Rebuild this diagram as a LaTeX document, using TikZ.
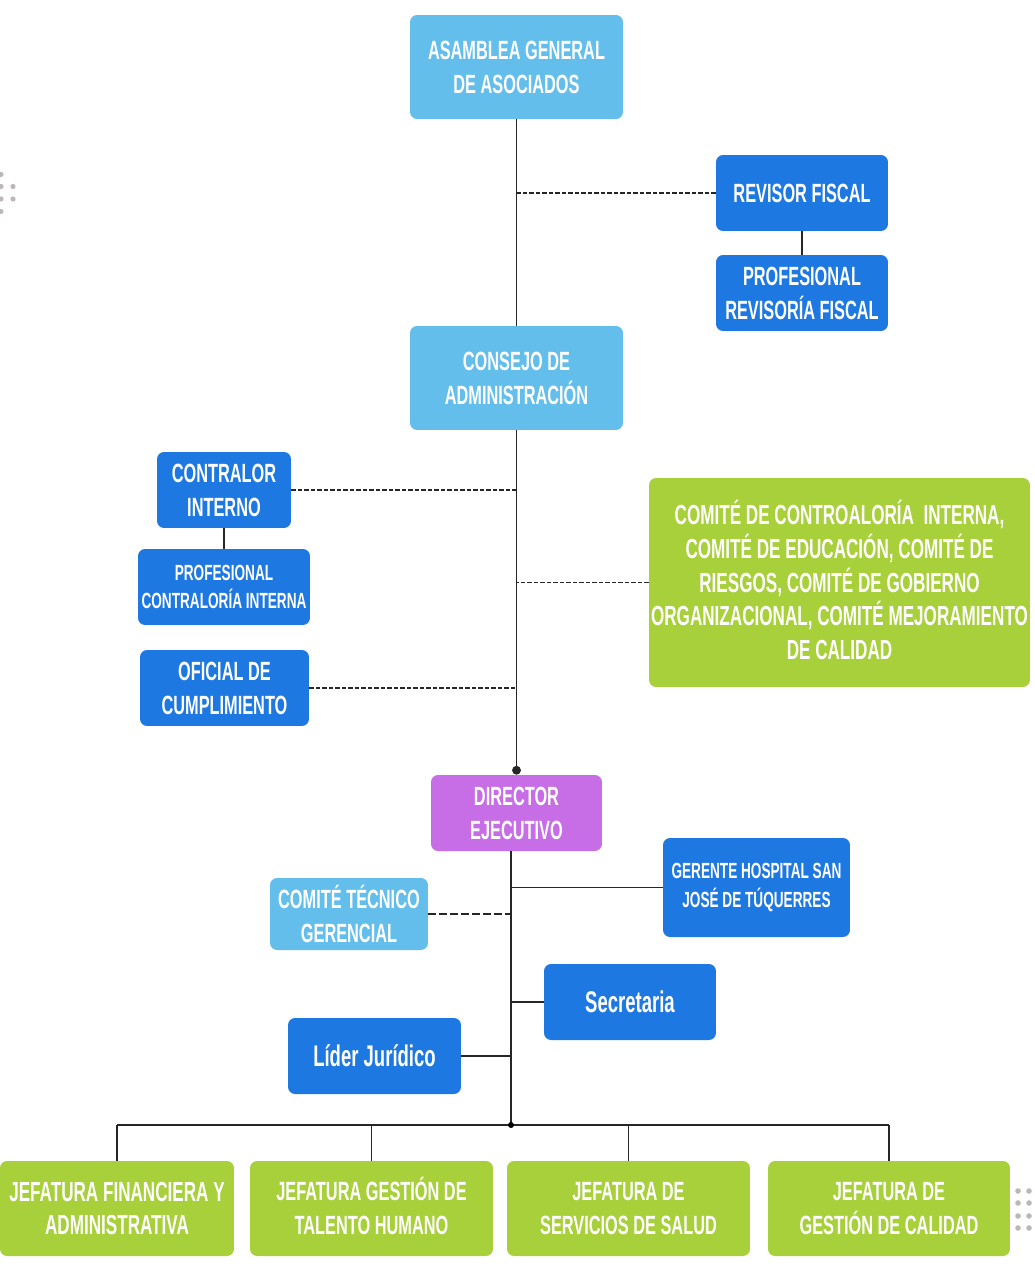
\documentclass[tikz,border=0pt]{standalone}
\usepackage{fontspec}
\newfontfamily\cond[FakeStretch=0.62]{Liberation Sans}
\usetikzlibrary{arrows.meta}
\definecolor{celeste}{HTML}{63BEEB}
\definecolor{azul}{HTML}{1E78E1}
\definecolor{verde}{HTML}{A7D03A}
\definecolor{morado}{HTML}{C76DE6}
\definecolor{puntos}{HTML}{BDB7B7}

\begin{document}
\begin{tikzpicture}[x=0.02cm,y=-0.02cm]
\tikzstyle{caja}=[rectangle,rounded corners=4pt,inner sep=0pt,align=center,text=white,font={\cond\bfseries\fontsize{15}{19.3}\selectfont}]
\tikzstyle{chica}=[font={\cond\bfseries\fontsize{12.5}{16}\selectfont}]
\tikzstyle{grande}=[font={\cond\bfseries\fontsize{17}{20}\selectfont}]
\tikzstyle{ancha}=[font={\cond\bfseries\fontsize{15.7}{19.3}\selectfont}]
\tikzstyle{celestebox}=[caja,fill=celeste]
\tikzstyle{azulbox}=[caja,fill=azul]
\tikzstyle{verdebox}=[caja,fill=verde]
\tikzstyle{moradobox}=[caja,fill=morado]
\tikzstyle{linea}=[draw=black!85,line width=0.8pt]
\tikzstyle{punteada}=[linea,line width=0.6pt,dash pattern=on 2.5pt off 1.2pt]
\useasboundingbox (0,0) rectangle (1034,1280);
\node [celestebox,minimum width=4.26cm,minimum height=2.08cm] (asamblea) at (516.5,67) {ASAMBLEA GENERAL\\DE ASOCIADOS};
\node [azulbox,minimum width=3.44cm,minimum height=1.52cm] (revisor) at (802,193) {REVISOR FISCAL};
\node [azulbox,minimum width=3.44cm,minimum height=1.52cm] (profrev) at (802,293) {PROFESIONAL\\REVISORÍA FISCAL};
\node [celestebox,minimum width=4.26cm,minimum height=2.08cm] (consejo) at (516.5,378) {CONSEJO DE\\ADMINISTRACIÓN};
\node [azulbox,minimum width=2.68cm,minimum height=1.52cm] (contralor) at (224,490) {CONTRALOR\\INTERNO};
\node [azulbox,chica,minimum width=3.44cm,minimum height=1.52cm] (profcon) at (224,587) {PROFESIONAL\\CONTRALORÍA INTERNA};
\node [azulbox,minimum width=3.38cm,minimum height=1.52cm] (oficial) at (224.5,688) {OFICIAL DE\\CUMPLIMIENTO};
\node [verdebox,ancha,minimum width=7.62cm,minimum height=4.18cm] (comites) at (839.5,582.5) {COMIT\smash{É} DE CONTROALOR\smash{Í}A\ \ INTERNA,\\COMITÉ DE EDUCACIÓN, COMITÉ DE\\RIESGOS, COMITÉ DE GOBIERNO\\ORGANIZACIONAL, COMITÉ MEJORAMIENTO\\DE CALIDAD};
\node [moradobox,minimum width=3.42cm,minimum height=1.52cm] (director) at (516.5,813) {DIRECTOR\\EJECUTIVO};
\node [azulbox,chica,minimum width=3.74cm,minimum height=1.98cm] (gerente) at (756.5,887.5) {GERENTE HOSPITAL SAN\\JOSÉ DE TÚQUERRES};
\node [celestebox,minimum width=3.16cm,minimum height=1.44cm] (tecnico) at (349,914) {COMITÉ TÉCNICO\\GERENCIAL};
\node [azulbox,grande,minimum width=3.44cm,minimum height=1.52cm] (secretaria) at (630,1002) {Secretaria};
\node [azulbox,grande,minimum width=3.46cm,minimum height=1.52cm] (lider) at (374.5,1056) {Líder Jurídico};
\node [verdebox,ancha,minimum width=4.68cm,minimum height=1.9cm] (jfin) at (117,1208.5) {JEFATURA FINANCIERA Y\\ADMINISTRATIVA};
\node [verdebox,minimum width=4.86cm,minimum height=1.9cm] (jtal) at (371.5,1208.5) {JEFATURA GESTI\smash{Ó}N DE\\TALENTO HUMANO};
\node [verdebox,minimum width=4.86cm,minimum height=1.9cm] (jsal) at (628.5,1208.5) {JEFATURA DE\\SERVICIOS DE SALUD};
\node [verdebox,minimum width=4.84cm,minimum height=1.9cm] (jcal) at (889,1208.5) {JEFATURA DE\\GESTIÓN DE CALIDAD};
% lineas
\draw [linea] (asamblea.south) -- (consejo.north);
\draw [punteada] (revisor.west) -- (revisor.west -| asamblea.south);
\draw [linea] (revisor) -- (profrev);
\draw [linea,-{Circle[length=5pt]}] (consejo.south) -- (director.north);
\draw [punteada] (contralor.east) -- (contralor.east -| consejo.south);
\draw [punteada] (comites.west) -- (comites.west -| consejo.south);
\draw [punteada] (oficial.east) -- (oficial.east -| consejo.south);
\draw [linea] (contralor) -- (profcon);
\coordinate (tronco) at (511,851);
\coordinate (bus) at (511,1125);
\draw [linea] (tronco) -- (bus);
\draw [linea] (gerente.west) -- (gerente.west -| tronco);
\draw [punteada,dash pattern=on 4.5pt off 1.7pt] (tecnico.east) -- (tecnico.east -| tronco);
\draw [linea] (secretaria.west) -- (secretaria.west -| tronco);
\draw [linea] (lider.east) -- (lider.east -| tronco);
\draw [linea] (jfin.north |- bus) -- (jcal.north |- bus);
\foreach \j in {jfin,jtal,jsal,jcal}
  \draw [linea] (\j.north |- bus) -- (\j.north);
\fill [black] (bus) circle (3);
% puntos
\foreach \y in {174.5,186.5,199,211.5}
  \fill [puntos] (1,\y) circle (2.6);
\foreach \y in {186.5,199}
  \fill [puntos] (13,\y) circle (2.6);
\foreach \x in {1018,1029}
  \foreach \y in {1191,1203,1216,1228}
    \fill [puntos] (\x,\y) circle (2.8);
\end{tikzpicture}
\end{document}
